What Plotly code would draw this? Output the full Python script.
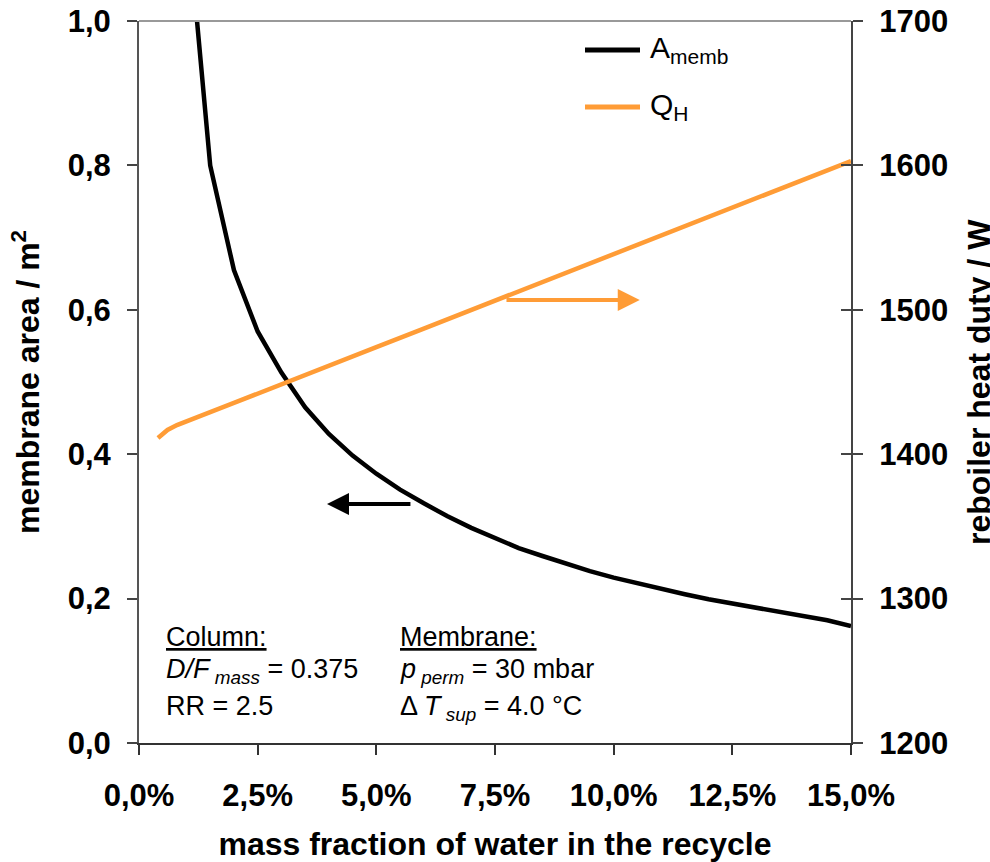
import plotly.graph_objects as go

# ---- data ----
x_area = [1.0, 1.5, 2.0, 2.5, 3.0, 3.5, 4.0, 4.5, 5.0, 5.5, 6.0, 6.5, 7.0, 7.5, 8.0,
          8.5, 9.0, 9.5, 10.0, 10.5, 11.0, 11.5, 12.0, 12.5, 13.0, 13.5, 14.0, 14.5, 15.0]
a_memb = [1.16, 0.80, 0.655, 0.57, 0.513, 0.465, 0.428, 0.398, 0.373, 0.351, 0.332, 0.314,
          0.298, 0.284, 0.270, 0.259, 0.248, 0.238, 0.229, 0.221, 0.213, 0.206, 0.199,
          0.193, 0.187, 0.181, 0.176, 0.170, 0.162]

x_heat = [0.4, 0.6, 0.8, 1.0, 1.5, 2.0, 3.0, 4.0, 5.0, 6.0, 7.0, 8.0, 9.0, 10.0,
          11.0, 12.0, 13.0, 14.0, 15.0]
q_h = [1411.2, 1416.8, 1420.2, 1423.0, 1429.2, 1435.5, 1448.6, 1461.1, 1474.2, 1487.0,
       1499.9, 1512.7, 1525.5, 1538.6, 1551.8, 1564.6, 1577.4, 1589.9, 1603.0]

x_ticks = [0, 2.5, 5, 7.5, 10, 12.5, 15]
x_ticktext = ["0,0%", "2,5%", "5,0%", "7,5%", "10,0%", "12,5%", "15,0%"]
y1_ticks = [0, 0.2, 0.4, 0.6, 0.8, 1.0]
y1_ticktext = ["0,0", "0,2", "0,4", "0,6", "0,8", "1,0"]
y2_ticks = [1200, 1300, 1400, 1500, 1600, 1700]
y2_ticktext = ["1200", "1300", "1400", "1500", "1600", "1700"]

BLACK = "#000000"
ORANGE = "#FF9C36"
FONT = "Liberation Sans, Arial, sans-serif"

fig = go.Figure()
fig.add_trace(go.Scatter(x=x_area, y=a_memb, mode="lines", line=dict(color=BLACK, width=4.5),
                         name="A<sub>memb</sub>", yaxis="y", showlegend=False))
fig.add_trace(go.Scatter(x=x_heat, y=q_h, mode="lines", line=dict(color=ORANGE, width=4.5),
                         name="Q<sub>H</sub>", yaxis="y2", showlegend=False))
fig.add_trace(go.Scatter(x=[None], y=[None], yaxis="y3", showlegend=False, hoverinfo="skip"))

L, R, T, B = 139, 139, 21, 119
W, H = 990, 862
pw, ph = W - L - R, H - T - B

def px(xp):
    return (xp - L) / pw

def py(yp):
    return (H - B - yp) / ph

tickfont = dict(family=FONT, size=31, color="black", weight="bold")
titlefont = dict(family=FONT, size=32, color="black", weight="bold")

fig.update_layout(
    width=W, height=H,
    margin=dict(l=L, r=R, t=T, b=B, pad=0, autoexpand=False),
    paper_bgcolor="white", plot_bgcolor="white",
    xaxis=dict(range=[0, 15], tickvals=x_ticks, ticktext=x_ticktext, tickfont=tickfont,
               ticks="outside", ticklen=10, tickwidth=2, tickcolor="#333",
               showline=True, linecolor="#333", linewidth=2, showgrid=False, zeroline=False,
               title=dict(text="mass fraction of water in the recycle", font=titlefont, standoff=22),
               ticklabelstandoff=14, automargin=False),
    yaxis=dict(range=[0, 1.0], tickvals=y1_ticks, ticktext=y1_ticktext, tickfont=tickfont,
               ticks="outside", ticklen=10, tickwidth=2, tickcolor="#444",
               showline=True, linecolor="#555", linewidth=2, showgrid=False, zeroline=False,
               title=dict(text="membrane area / m<sup>2</sup>", font=titlefont, standoff=18),
               ticklabelstandoff=10, automargin=False),
    yaxis2=dict(range=[1200, 1700], tickvals=y2_ticks, ticktext=y2_ticktext, tickfont=tickfont,
                overlaying="y", side="right", anchor="x",
                ticks="outside", ticklen=10, tickwidth=2, tickcolor="#444",
                showline=True, linecolor="#444", linewidth=2, showgrid=False, zeroline=False,
                ticklabelstandoff=10, automargin=False),
    yaxis3=dict(range=[1200, 1700], tickvals=y2_ticks, overlaying="y", side="right", anchor="x",
                ticks="inside", ticklen=10, tickwidth=2, tickcolor="#444",
                showticklabels=False, showline=False, showgrid=False, zeroline=False,
                automargin=False),
    showlegend=False,
)

# right axis title (placed partly beyond the page edge, as in the original)
fig.add_annotation(xref="paper", yref="paper", x=px(979), y=0.5, text="reboiler heat duty / W",
                   textangle=-90, showarrow=False, xanchor="center", yanchor="middle", font=titlefont)

# top border
fig.add_shape(type="line", xref="paper", yref="paper", x0=0, x1=1, y0=1, y1=1,
              line=dict(color="#999999", width=2))

# custom legend
fig.add_shape(type="line", xref="paper", yref="paper", x0=px(585), x1=px(640), y0=py(50), y1=py(50),
              line=dict(color=BLACK, width=5))
fig.add_shape(type="line", xref="paper", yref="paper", x0=px(585), x1=px(640), y0=py(107), y1=py(107),
              line=dict(color=ORANGE, width=5))
legfont = dict(family=FONT, size=30, color="black")
fig.add_annotation(xref="paper", yref="paper", x=px(648), y=py(50), text="A<sub>memb</sub>",
                   showarrow=False, xanchor="left", yanchor="middle", font=legfont)
fig.add_annotation(xref="paper", yref="paper", x=px(648), y=py(107), text="Q<sub>H</sub>",
                   showarrow=False, xanchor="left", yanchor="middle", font=legfont)

# arrows
fig.add_annotation(x=3.96, y=0.331, ax=5.75, ay=0.331, xref="x", yref="y", axref="x", ayref="y",
                   text="", showarrow=True, arrowhead=2, arrowsize=1.1, arrowwidth=4, arrowcolor=BLACK)
fig.add_annotation(x=10.55, y=1506.8, ax=7.71, ay=1506.8, xref="x", yref="y2", axref="x", ayref="y2",
                   text="", showarrow=True, arrowhead=2, arrowsize=1.1, arrowwidth=4, arrowcolor=ORANGE)

# text block
txtfont = dict(family=FONT, size=27, color="black")
lines = [
    (164, 637, "<u>Column:</u>"),
    (164, 671, "<i>D/F</i><sub><i> mass</i></sub> = 0.375"),
    (164, 706, "RR = 2.5"),
    (398, 637, "<u>Membrane:</u>"),
    (398, 671, "<i>p</i><sub><i> perm</i></sub> = 30 mbar"),
    (398, 708, "Δ <i>T</i><sub><i> sup</i></sub> = 4.0 °C"),
]
for xp, yp, t in lines:
    fig.add_annotation(xref="paper", yref="paper", x=px(xp), y=py(yp), text=t, showarrow=False,
                       xanchor="left", yanchor="middle", font=txtfont)

fig.write_html("out.html")
